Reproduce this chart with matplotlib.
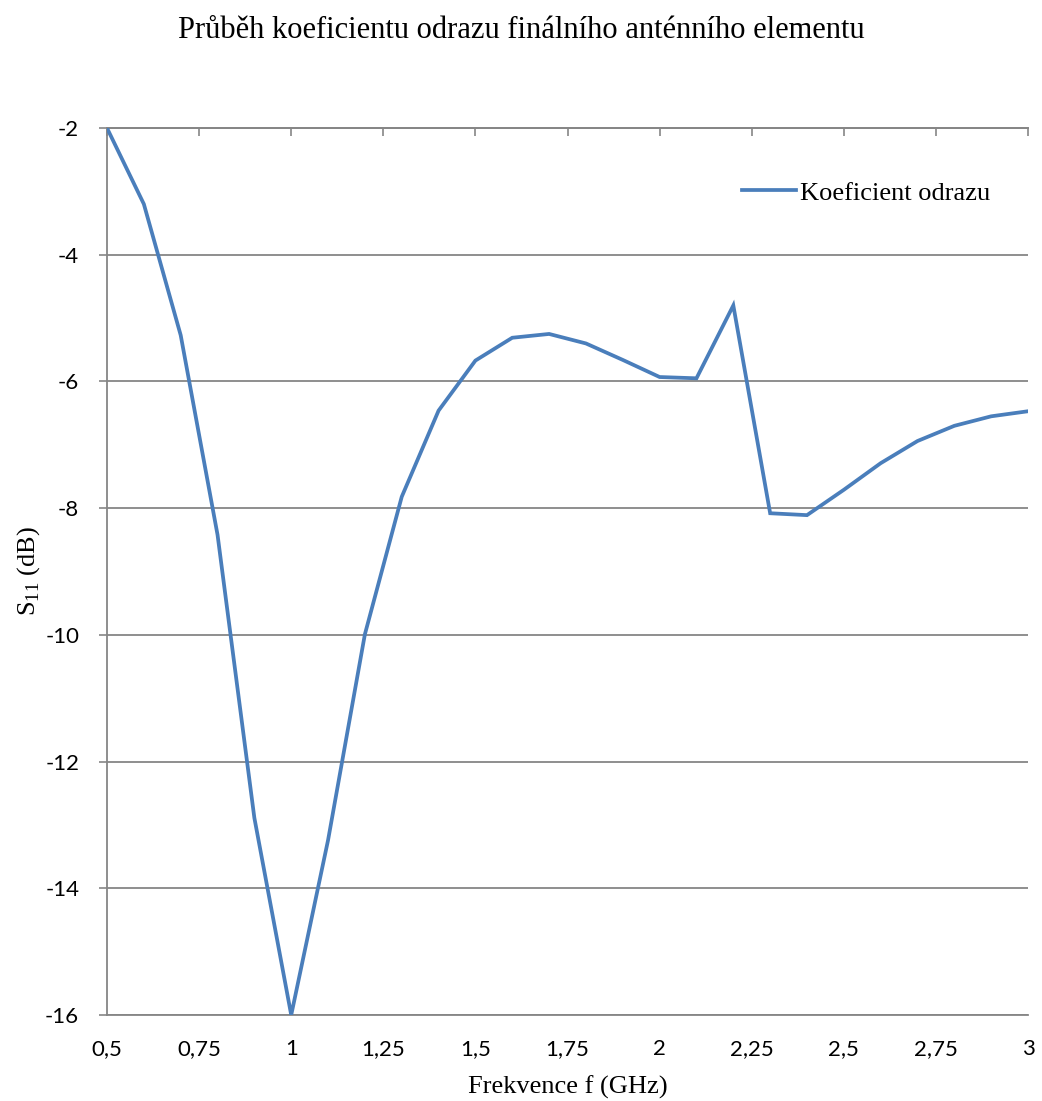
import numpy as np
import matplotlib
matplotlib.use("Agg")
from matplotlib import pyplot as plt

# frekvence (GHz) a koeficient odrazu S11 (dB)
f = [0.5, 0.6, 0.7, 0.8, 0.9, 1.0, 1.1, 1.2, 1.3, 1.4, 1.5, 1.6, 1.7,
     1.8, 1.9, 2.0, 2.1, 2.2, 2.3, 2.4, 2.5, 2.6, 2.7, 2.8, 2.9, 3.0]
s11 = [-2.0, -3.2, -5.27, -8.42, -12.89, -16.0, -13.24, -9.99, -7.82,
       -6.46, -5.67, -5.31, -5.25, -5.40, -5.66, -5.93, -5.95, -4.80,
       -8.08, -8.11, -7.71, -7.29, -6.94, -6.70, -6.55, -6.47]

xticks = [0.5, 0.75, 1, 1.25, 1.5, 1.75, 2, 2.25, 2.5, 2.75, 3]
xlabels = ['0,5', '0,75', '1', '1,25', '1,5', '1,75', '2', '2,25', '2,5', '2,75', '3']
yticks = [-16, -14, -12, -10, -8, -6, -4, -2]

grey = '#868686'
serif = 'Liberation Serif'
sans = 'Lato'

plt.rcParams['mathtext.fontset'] = 'custom'
plt.rcParams['mathtext.rm'] = serif

fig = plt.figure(figsize=(10.42, 11.01), dpi=100)
ax = fig.add_axes([0.1027, 0.0781, 0.8839, 0.8056])

ax.plot(f, s11, color='#4A7EBB', lw=2.7, label='Koeficient odrazu',
        solid_joinstyle='miter', zorder=3)

ax.set_xlim(0.5, 3)
ax.set_ylim(-16, -2)
ax.set_xticks(xticks)
ax.set_xticklabels(xlabels, fontname=sans, fontsize=16)
ax.set_yticks(yticks)
ax.set_yticklabels([str(v) for v in yticks], fontname=sans, fontsize=16)
ax.tick_params(axis='x', length=0, pad=17)
ax.tick_params(axis='y', length=6, width=1.2, color=grey, direction='out', pad=14)

ax.grid(axis='y', color=grey, lw=1.3)
ax.set_axisbelow(True)
for side in ['left', 'bottom', 'top']:
    ax.spines[side].set_color(grey)
    ax.spines[side].set_linewidth(1.3)
ax.spines['right'].set_visible(False)

top = ax.secondary_xaxis('top')
top.set_xticks(xticks)
top.set_xticklabels([])
top.tick_params(direction='in', length=6, width=1.2, color=grey)
top.spines['top'].set_color(grey)
top.spines['top'].set_linewidth(1.3)

ax.set_xlabel('Frekvence f (GHz)', fontname=serif, fontsize=19, labelpad=12)
ax.set_ylabel('S$_{\\mathregular{11}}$ (dB)', fontname=serif, fontsize=19, labelpad=2)

fig.text(0.5, 1 - 38 / 1101, 'Průběh koeficientu odrazu finálního anténního elementu',
         ha='center', va='baseline', fontname=serif, fontsize=22)

leg = ax.legend(loc='center left', bbox_to_anchor=(0.689, 0.927), frameon=False,
                prop={'family': serif, 'size': 19}, handlelength=2.05,
                handletextpad=0.15, borderpad=0, borderaxespad=0)

fig.savefig('out.png', dpi=100)
